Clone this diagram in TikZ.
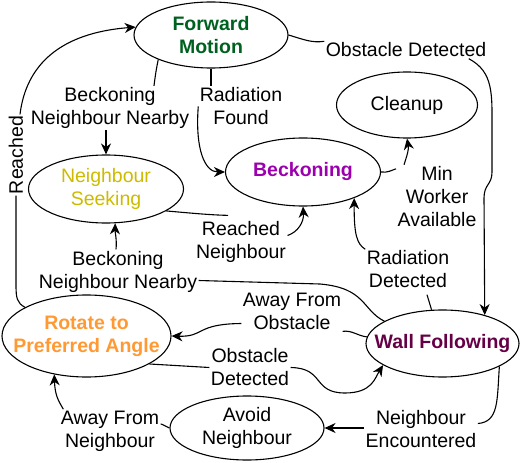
\documentclass[tikz,border=0pt]{standalone}
\usepackage{fontspec}
\setmainfont{Liberation Sans}
\usetikzlibrary{shapes.geometric}
\usetikzlibrary{arrows.meta}

\definecolor{fwdgreen}{HTML}{006020}
\definecolor{seekyellow}{HTML}{CCBB00}
\definecolor{beckpurple}{HTML}{9C00AE}
\definecolor{rotorange}{HTML}{FF9933}
\definecolor{wallplum}{HTML}{660046}
\newcommand{\figsize}{\fontsize{19.5bp}{23bp}\selectfont}

\begin{document}
\begin{tikzpicture}[x=1bp, y=-1bp, line width=1.1bp,
    state/.style={ellipse, draw, inner sep=0pt},
    stext/.style={font=\figsize, align=center},
    lbl/.style={font=\figsize, align=center, inner sep=1bp},
    arr/.style={-{Stealth[length=11bp, width=10bp, inset=3.5bp]}}]
    \useasboundingbox (0,0) rectangle (521,463);

    % states
    \node[state, minimum width=154bp, minimum height=66bp,
      label={[stext, font=\figsize\bfseries, text=fwdgreen]center:{Forward\\Motion}}] (fwd) at (211,35) {};
    \node[state, minimum width=141bp, minimum height=66bp,
      label={[stext]center:Cleanup}] (cleanup) at (407,105) {};
    \node[state, minimum width=155bp, minimum height=68bp,
      label={[stext, font=\figsize\bfseries, text=beckpurple]center:Beckoning}] (beck) at (303,172) {};
    \node[state, minimum width=155bp, minimum height=68bp,
      label={[stext, text=seekyellow]center:{Neighbour\\Seeking}}] (seek) at (106,189) {};
    \node[state, minimum width=169bp, minimum height=82bp,
      label={[stext, font=\figsize\bfseries, text=rotorange]center:{Rotate to\\Preferred Angle}}] (rotate) at (86.5,336) {};
    \node[state, minimum width=153bp, minimum height=67bp,
      label={[stext, font=\figsize\bfseries, text=wallplum]center:Wall Following}] (wall) at (442.5,343.5) {};
    \node[state, minimum width=154bp, minimum height=64bp,
      label={[stext]center:{Avoid\\Neighbour}}] (avoid) at (247,428) {};

    % transition labels
    \node[lbl] (lbnn1) at (110,108) {Beckoning\\Neighbour Nearby};
    \node[lbl] (lrf) at (241,106.5) {Radiation\\Found};
    \node[lbl] (lod1) at (406,50) {Obstacle Detected};
    \node[lbl] (lmin) at (437,196.5) {Min\\Worker\\Available};
    \node[lbl] (lrn) at (241,241.5) {Reached\\Neighbour};
    \node[lbl] (lrd) at (408,269.5) {Radiation\\Detected};
    \node[lbl] (lbnn2) at (118,271.5) {Beckoning\\Neighbour Nearby};
    \node[lbl] (lafo) at (292,311.5) {Away From\\Obstacle};
    \node[lbl] (lod2) at (250,367.5) {Obstacle\\Detected};
    \node[lbl] (lne) at (421,429.5) {Neighbour\\Encountered};
    \node[lbl] (lafn) at (110,431) {Away From\\Neighbour};
    \node[lbl, rotate=90] (lreach) at (16,155) {Reached};

    % Forward Motion -> Neighbour Seeking
    \draw (fwd.205) .. controls (156,70) and (155,78) .. ([xshift=44bp]lbnn1.north);
    \draw[arr] (lbnn1.south -| seek.north) -- (seek.north);

    % Forward Motion -> Beckoning
    \draw (fwd.south) -- (fwd.south |- lrf.north);
    \draw[arr] (lrf.west) .. controls (195,150) and (205,172) .. (beck.west);

    % Forward Motion -> Wall Following
    \draw (fwd.east) .. controls (305,40) and (312,43) .. (lod1.north west);
    \draw[arr] ([xshift=-19bp]lod1.south east) .. controls (494,72) and (492,95) .. (492,130)
      -- (492,172) .. controls (492,185) and (484,184) .. (484,198) -- (wall.34);

    % Beckoning -> Cleanup
    \draw (beck.east) .. controls (388,173) and (392,170) .. ([yshift=-4bp]lmin.north west);
    \draw[arr] ([xshift=8bp]lmin.north west) .. controls (407,155) and (409,150) .. (cleanup.south);

    % Neighbour Seeking -> Beckoning
    \draw (seek.-20) .. controls (190,213) and (210,215) .. ([xshift=-13bp, yshift=4bp]lrn.north);
    \draw[arr] ([yshift=6bp]lrn.east) .. controls (298,232) and (304,222) .. (beck.south);

    % Wall Following -> Beckoning
    \draw (wall.108) -- ([xshift=19bp, yshift=-5bp]lrd.south);
    \draw[arr] (lrd.north west) .. controls (357,244) and (354,235) .. (beck.-27);

    % Wall Following -> Neighbour Seeking
    \draw (wall.159) .. controls (362,310) and (366,288) .. (320,284) -- ([yshift=-9bp]lbnn2.east);
    \draw[arr] ([xshift=-2bp]lbnn2.north) .. controls (117,240) and (115,232) .. (seek.-75);

    % Wall Following -> Rotate to Preferred Angle
    \draw (wall.175) .. controls (358,336) and (352,330) .. (lafo.south east);
    \draw[arr] ([yshift=-12bp]lafo.west) .. controls (195,324) and (205,337) .. (rotate.east);

    % Rotate to Preferred Angle -> Wall Following
    \draw (rotate.-24) -- (lod2.west);
    \draw[arr] (lod2.east) .. controls (325,368) and (312,393) .. (345,393)
      .. controls (372,393) and (375,378) .. (wall.200);

    % Wall Following -> Avoid Neighbour
    \draw (wall.-22) .. controls (497,400) and (499,422) .. ([yshift=6bp]lne.east);
    \draw[arr] (avoid.east -| lne.west) -- (avoid.east);

    % Avoid Neighbour -> Rotate to Preferred Angle
    \draw (avoid.west) .. controls (165,426) and (162,424) .. ([yshift=7bp]lafn.east);
    \draw[arr] ([xshift=4bp]lafn.north west) .. controls (58,400) and (55,395) .. (rotate.230);

    % Rotate to Preferred Angle -> Forward Motion
    \draw (rotate.155) .. controls (17,303) and (16,298) .. (16,285) -- (lreach.west);
    \draw[arr] ([xshift=4bp]lreach.east) .. controls (26,65) and (60,33) .. (fwd.174);
\end{tikzpicture}
\end{document}
